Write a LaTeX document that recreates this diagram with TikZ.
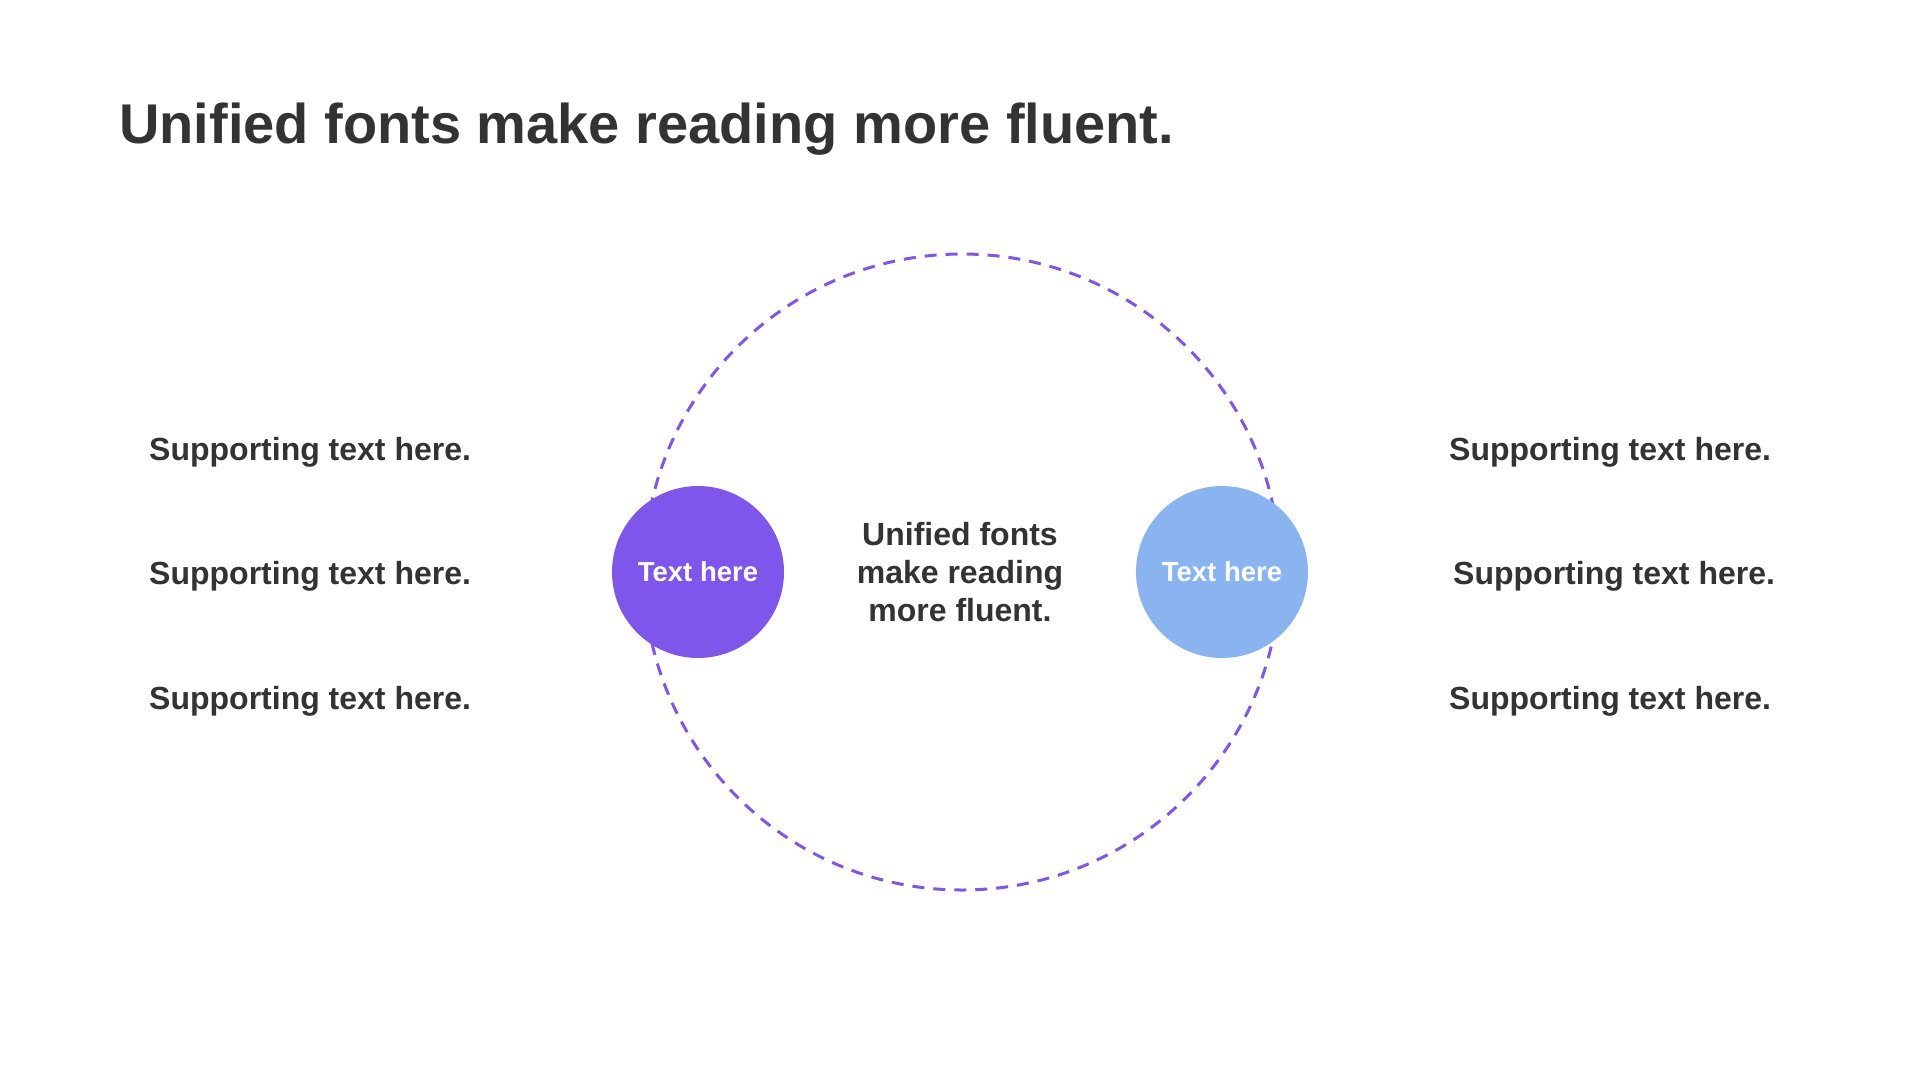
\documentclass[tikz,border=0pt]{standalone}
\usepackage{fontspec}
\setmainfont{Liberation Sans}
\usetikzlibrary{positioning}
\definecolor{orbitPurple}{HTML}{7F56EC}
\definecolor{softBlue}{HTML}{8AB4F0}
\definecolor{inkGray}{HTML}{333333}
\tikzstyle{support}=[anchor=west, inner sep=0pt, text=inkGray, font=\fontsize{32}{38}\selectfont\bfseries]
\tikzstyle{bubble}=[circle, minimum size=172pt, inner sep=0pt, text=white, font=\fontsize{27.5}{32}\selectfont\bfseries]
\tikzstyle{orbit}=[circle, draw=orbitPurple, line width=3pt, dash pattern=on 12pt off 9pt, minimum size=636pt, inner sep=0pt]

\begin{document}
\begin{tikzpicture}[x=1pt, y=-1pt]
	\useasboundingbox (0,0) rectangle (1920,1080);

	% Title
	\node[anchor=base west, inner sep=0pt, text=inkGray, font=\fontsize{56}{66}\selectfont\bfseries] (title) at (119,143) {Unified fonts make reading more fluent.};

	% Dashed orbit and the two bubbles on it
	\node[orbit] (ring) at (962,572) {};
	\node[bubble, fill=orbitPurple] (leftbubble) at (698,572) {Text here};
	\node[bubble, fill=softBlue] (rightbubble) at (1222,572) {Text here};

	\node[align=center, inner sep=0pt, text=inkGray, font=\fontsize{32}{38}\selectfont\bfseries] (core) at (960,572) {Unified fonts\\make reading\\more fluent.};

	% Supporting texts
	\foreach \y [count=\i] in {452, 576, 701}{
		\node[support] (leftnote\i) at (149,\y) {Supporting text here.};
	}
	\foreach \x/\y [count=\i] in {1449/452, 1453/576, 1449/701}{
		\node[support] (rightnote\i) at (\x,\y) {Supporting text here.};
	}
\end{tikzpicture}
\end{document}
